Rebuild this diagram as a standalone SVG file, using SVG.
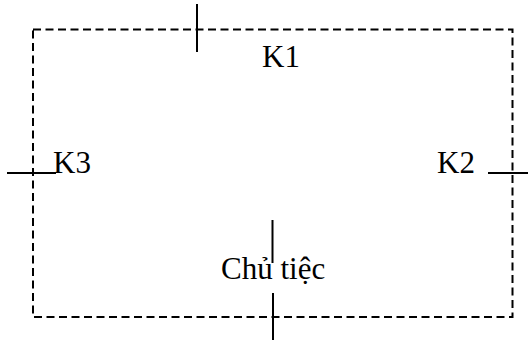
<svg xmlns="http://www.w3.org/2000/svg" width="528" height="342" viewBox="0 0 528 342">
<style>
.lbl{font-family:"Liberation Serif","Times New Roman",serif;font-size:31px;fill:#000}
.frame{fill:none;stroke:#000;stroke-width:2;stroke-dasharray:8 4.5}
.tick{stroke:#000;stroke-width:2;fill:none}
</style>
<rect width="528" height="342" fill="#fff"/>
<g id="room">
<rect class="frame" x="33" y="29.5" width="479.5" height="287.5"/>
</g>
<g id="connectors">
<line class="tick" x1="197" y1="4" x2="197" y2="52"/>
<line class="tick" x1="7" y1="173" x2="56" y2="173"/>
<line class="tick" x1="488" y1="173" x2="528" y2="173"/>
<line class="tick" x1="272.5" y1="220" x2="272.5" y2="263"/>
<line class="tick" x1="273" y1="293" x2="273" y2="340"/>
</g>
<g id="k1"><text class="lbl" x="262" y="67">K1</text></g>
<g id="k2"><text class="lbl" x="437" y="173">K2</text></g>
<g id="k3"><text class="lbl" x="53" y="173">K3</text></g>
<g id="chu-tiec"><text class="lbl" x="221" y="279">Chủ tiệc</text></g>
</svg>
